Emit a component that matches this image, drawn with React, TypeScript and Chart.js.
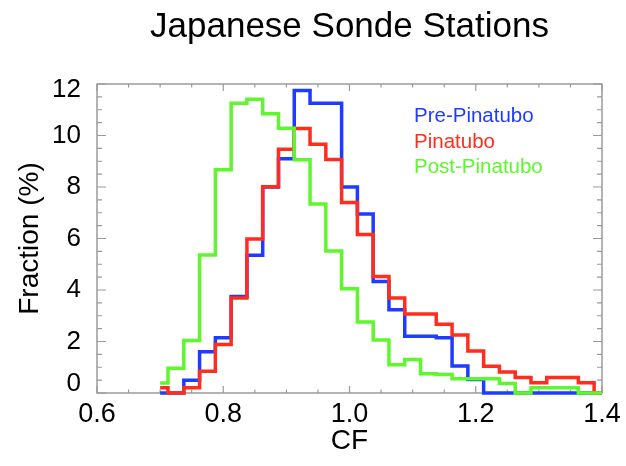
import React, { useEffect, useRef } from "react";
import { Chart, registerables } from "chart.js";

Chart.register(...registerables);

// ---- data: bin centres (CF) and fraction (%) per period ----
const binCenters = [
  0.7, 0.725, 0.75, 0.775, 0.8, 0.825, 0.85, 0.875, 0.9, 0.925,
  0.95, 0.975, 1.0, 1.025, 1.05, 1.075, 1.1, 1.125, 1.15, 1.175,
  1.2, 1.225, 1.25, 1.275, 1.3, 1.325, 1.35, 1.375, 1.4,
];
const prePinatubo = [
  0, 0, 0.5, 1.6, 2.15, 3.75, 5.35, 8.0, 9.1, 11.75,
  11.25, 11.25, 8.0, 6.95, 4.33, 3.23, 2.2, 2.2, 2.15, 1.05,
  0.52, 0, 0, 0, 0, 0, 0, 0, 0,
];
const pinatubo = [
  0.2, 0, 0.2, 0.84, 1.88, 3.69, 5.98, 8.01, 9.47, 10.27,
  9.66, 9.07, 7.4, 6.16, 4.52, 3.69, 3.07, 3.07, 2.67, 2.25,
  1.63, 1.04, 0.82, 0.6, 0.4, 0.6, 0.6, 0.4, 0,
];
const postPinatubo = [
  0.39, 0.96, 2.04, 5.36, 8.67, 11.25, 11.41, 10.84, 10.28, 9.06,
  7.34, 5.51, 4.05, 2.76, 2.06, 1.1, 1.3, 0.75, 0.72, 0.55,
  0.55, 0.55, 0.37, 0, 0.2, 0.2, 0.2, 0, 0,
];
const seriesNames = ["Pre-Pinatubo", "Pinatubo", "Post-Pinatubo"];
const seriesColors = ["#1e3cff", "#ff2d1e", "#5df72b"];
const xTickValues = [0.6, 0.8, 1.0, 1.2, 1.4];
const xTickLabels = ["0.6", "0.8", "1.0", "1.2", "1.4"];
const yTickValues = [0, 2, 4, 6, 8, 10, 12];
const yTickLabels = ["0", "2", "4", "6", "8", "10", "12"];
const chartTitle = "Japanese Sonde Stations";
const xTitle = "CF";
const yTitle = "Fraction (%)";

const FONT = "'Liberation Sans', Arial, Helvetica, sans-serif";
const AXIS_GRAY = "#9a9a9a";

const idlAxesPlugin = {
  id: "idlAxes",
  beforeDatasetsDraw(chart: any) {
    const { ctx, chartArea, scales } = chart;
    const { left, right, top, bottom } = chartArea;
    const xs = scales.x;
    const ys = scales.y;
    ctx.save();
    ctx.strokeStyle = AXIS_GRAY;
    ctx.lineWidth = 1.5;
    ctx.strokeRect(left, top, right - left, bottom - top);
    ctx.lineWidth = 1.2;
    ctx.beginPath();
    const xv = xs.ticks.map((t: any) => t.value);
    for (let i = 0; i < xv.length; i++) {
      const px = xs.getPixelForValue(xv[i]);
      ctx.moveTo(px, bottom); ctx.lineTo(px, bottom - 7);
      ctx.moveTo(px, top); ctx.lineTo(px, top + 7);
      if (i < xv.length - 1) {
        for (let k = 1; k < 4; k++) {
          const m = xs.getPixelForValue(xv[i] + ((xv[i + 1] - xv[i]) * k) / 4);
          ctx.moveTo(m, bottom); ctx.lineTo(m, bottom - 3.5);
          ctx.moveTo(m, top); ctx.lineTo(m, top + 3.5);
        }
      }
    }
    const yv = ys.ticks.map((t: any) => t.value);
    for (let i = 0; i < yv.length; i++) {
      const py = ys.getPixelForValue(yv[i]);
      ctx.moveTo(left, py); ctx.lineTo(left + 9, py);
      ctx.moveTo(right, py); ctx.lineTo(right - 9, py);
      if (i < yv.length - 1) {
        for (let k = 1; k < 4; k++) {
          const m = ys.getPixelForValue(yv[i] + ((yv[i + 1] - yv[i]) * k) / 4);
          ctx.moveTo(left, m); ctx.lineTo(left + 5, m);
          ctx.moveTo(right, m); ctx.lineTo(right - 5, m);
        }
      }
    }
    ctx.stroke();
    ctx.restore();
  },
  afterDatasetsDraw(chart: any) {
    const { ctx, chartArea, scales } = chart;
    const { left, top, bottom } = chartArea;
    const ys = scales.y;
    ctx.save();
    // y tick labels; IDL keeps the end labels inside the frame
    ctx.fillStyle = "#000";
    ctx.font = `26px ${FONT}`;
    ctx.textAlign = "right";
    ctx.textBaseline = "middle";
    ys.ticks.forEach((t: any, i: number) => {
      let py = ys.getPixelForValue(t.value);
      py = Math.min(Math.max(py, top + 6), bottom - 9);
      ctx.fillText(yTickLabels[i] ?? String(t.value), left - 16, py);
    });
    // legend as coloured text
    ctx.font = `20.5px ${FONT}`;
    ctx.textAlign = "left";
    ctx.textBaseline = "alphabetic";
    chart.data.datasets.forEach((ds: any, i: number) => {
      ctx.fillStyle = ds.borderColor;
      ctx.fillText(ds.label, 414, 122.3 + i * 25.5);
    });
    ctx.restore();
  },
};

export default function App() {
  const canvasRef = useRef<HTMLCanvasElement | null>(null);
  useEffect(() => {
    document.body.style.margin = "0";
    const canvas = canvasRef.current;
    if (!canvas) return;
    const allSeries = [prePinatubo, pinatubo, postPinatubo];
    const orders = [3, 2, 1];
    const chart = new Chart(canvas, {
      type: "line",
      data: {
        datasets: allSeries.map((vals, s) => ({
          label: seriesNames[s],
          data: binCenters.map((x, i) => ({ x, y: vals[i] })),
          borderColor: seriesColors[s],
          backgroundColor: seriesColors[s],
          borderWidth: 3.5,
          pointRadius: 0,
          pointHoverRadius: 0,
          fill: false,
          tension: 0,
          stepped: "middle",
          clip: false,
          order: orders[s],
          borderJoinStyle: "miter",
        })),
      },
      options: {
        animation: false,
        responsive: true,
        maintainAspectRatio: false,
        events: [],
        layout: { padding: { left: 0, right: 24, top: 0, bottom: 0 } },
        plugins: {
          legend: { display: false },
          tooltip: { enabled: false },
          title: {
            display: true,
            text: chartTitle,
            fullSize: false,
            color: "#000",
            font: { family: FONT, size: 35, weight: "normal", lineHeight: 0.9 },
            padding: { top: 12, bottom: 40.5 },
          },
        },
        scales: {
          x: {
            type: "linear",
            min: 0.6,
            max: 1.4,
            afterBuildTicks: (scale: any) => {
              scale.ticks = xTickValues.map((v) => ({ value: v }));
            },
            afterFit: (scale: any) => {
              scale.paddingLeft = 0;
              scale.paddingRight = 0;
              scale.height = 73;
            },
            grid: { display: false, drawTicks: false },
            border: { display: false },
            ticks: {
              autoSkip: false,
              maxRotation: 0,
              color: "#000",
              padding: 8.5,
              font: { family: FONT, size: 27, lineHeight: 1 },
              callback: (_v: any, i: number) => xTickLabels[i],
            },
            title: {
              display: true,
              text: xTitle,
              color: "#000",
              font: { family: FONT, size: 28, lineHeight: 1 },
              padding: { top: 0, bottom: 11 },
            },
          },
          y: {
            type: "linear",
            min: 0,
            max: 12,
            afterBuildTicks: (scale: any) => {
              scale.ticks = yTickValues.map((v) => ({ value: v }));
            },
            grid: { display: false, drawTicks: false },
            border: { display: false },
            ticks: { display: false },
            title: {
              display: true,
              text: yTitle,
              color: "#000",
              font: { family: FONT, size: 28, lineHeight: 1 },
              padding: { top: 16, bottom: 53 },
            },
          },
        },
      },
      plugins: [idlAxesPlugin],
    } as any);
    return () => chart.destroy();
  }, []);

  return (
    <div style={{ position: "relative", width: "626px", height: "466px" }}>
      <canvas ref={canvasRef} />
    </div>
  );
}
